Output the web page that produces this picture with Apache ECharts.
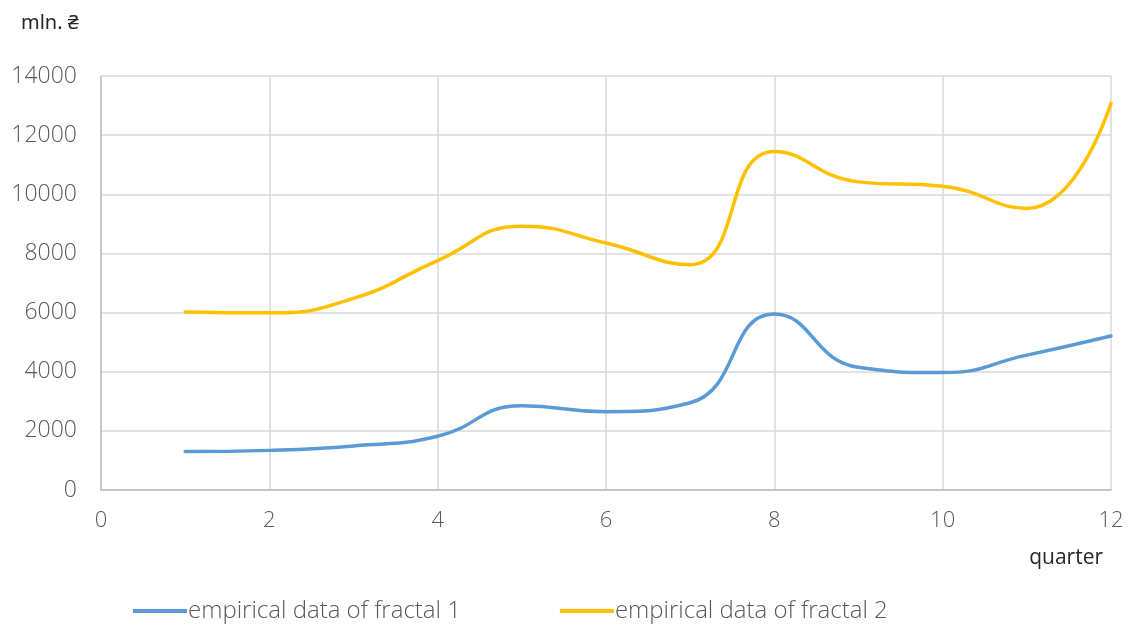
<!DOCTYPE html>
<html><head><meta charset="utf-8">
<script src="https://cdn.jsdelivr.net/npm/echarts@6/dist/echarts.min.js"></script>
<style>html,body{margin:0;padding:0;background:#fff}#c{width:1130px;height:625px}</style>
</head><body><div id="c"></div>
<script>
const quarters = [1,2,3,4,5,6,7,8,9,10,11,12];
const fractal1 = [1300,1340,1490,1820,2850,2650,2950,5950,4150,3970,4560,5210];
const fractal2 = [6020,5990,6480,7760,8920,8350,7620,11450,10420,10270,9520,13080];
const seriesNames = ['empirical data of fractal 1','empirical data of fractal 2'];
const FONT = 'Open Sans';
const TXT = '#595959';
const chart = echarts.init(document.getElementById('c'));
chart.setOption({
  animation:false,
  textStyle:{fontFamily:FONT},
  title:{text:'mln. ₴',left:16,top:8,textStyle:{fontFamily:'"Noto Sans","DejaVu Sans"',fontSize:20,fontWeight:'normal',color:'#262626'}},
  grid:{left:101,right:19,top:76,bottom:135},
  legend:{top:594,left:128,itemWidth:54,itemHeight:4,itemGap:99,icon:'rect',
    textStyle:{fontFamily:FONT,fontSize:24,fontWeight:300,color:TXT,padding:[0,0,0,-4]},
    data:seriesNames},
  xAxis:{type:'value',min:0,max:12,interval:2,name:'quarter',nameLocation:'end',
    nameGap:0,nameTextStyle:{fontFamily:FONT,fontSize:21,color:'#262626',align:'right',verticalAlign:'top',padding:[58,8,0,0]},
    axisLine:{show:true,lineStyle:{color:'#bfbfbf',width:1.5}},axisTick:{show:false},
    axisLabel:{fontFamily:FONT,fontSize:22,fontWeight:300,color:TXT,margin:20},
    splitLine:{show:true,lineStyle:{color:'#d9d9d9',width:1.5}}},
  yAxis:{type:'value',min:0,max:14000,interval:2000,
    axisLine:{show:true,lineStyle:{color:'#bfbfbf',width:1.5}},axisTick:{show:false},
    axisLabel:{fontFamily:FONT,fontSize:23,fontWeight:300,color:TXT,margin:24,formatter:v=>String(v)},
    splitLine:{show:true,lineStyle:{color:'#d9d9d9',width:1.5}}},
  series:[
    {name:seriesNames[0],type:'line',smooth:0.5,symbol:'none',
     lineStyle:{color:'#5b9bd5',width:3.5,cap:'round'},itemStyle:{color:'#5b9bd5'},
     data:quarters.map((q,i)=>[q,fractal1[i]])},
    {name:seriesNames[1],type:'line',smooth:0.5,symbol:'none',
     lineStyle:{color:'#ffc000',width:3.5,cap:'round'},itemStyle:{color:'#ffc000'},
     data:quarters.map((q,i)=>[q,fractal2[i]])}
  ]
});
</script></body></html>
